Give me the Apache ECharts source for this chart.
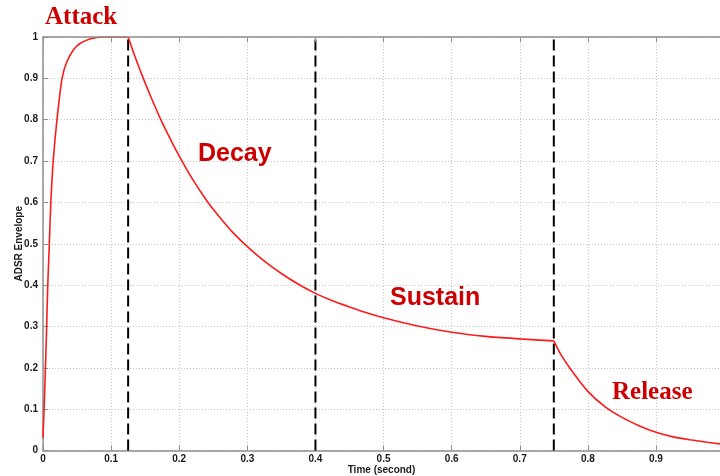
<!DOCTYPE html>
<html><head><meta charset="utf-8">
<script src="https://cdn.jsdelivr.net/npm/echarts@6/dist/echarts.min.js"></script>
<style>html,body{margin:0;padding:0;background:#fff}#c{width:720px;height:476px}</style>
</head><body><div id="c"></div>
<script>
// ---- data ----
const attackT = [0, 0.002, 0.004, 0.0055, 0.007, 0.0093, 0.0115, 0.015, 0.0205, 0.028, 0.035, 0.045, 0.055, 0.07, 0.088, 0.125];
const attackV = [0.03, 0.12, 0.22, 0.31, 0.40, 0.50, 0.60, 0.70, 0.80, 0.90, 0.94, 0.97, 0.985, 0.996, 1.0, 1.0];
const decayT = [0.125, 0.135, 0.148, 0.16, 0.173, 0.187, 0.2, 0.22, 0.241, 0.26, 0.28, 0.3, 0.325, 0.35, 0.375, 0.4, 0.425, 0.45, 0.475, 0.5, 0.55, 0.6, 0.65, 0.7, 0.75];
const decayV = [1.0, 0.953, 0.897, 0.849, 0.80, 0.753, 0.712, 0.655, 0.603, 0.563, 0.525, 0.493, 0.458, 0.428, 0.402, 0.38, 0.362, 0.347, 0.333, 0.321, 0.301, 0.286, 0.276, 0.27, 0.265];
const releaseT = [0.75, 0.76, 0.775, 0.8, 0.825, 0.85, 0.875, 0.9, 0.925, 0.95, 0.975, 0.994];
const releaseV = [0.265, 0.233, 0.196, 0.143, 0.106, 0.08, 0.06, 0.044, 0.033, 0.026, 0.02, 0.016];
const phaseBounds = [0.125, 0.4, 0.75];
const phaseNames = ['Attack', 'Decay', 'Sustain', 'Release'];
const xRange = [0, 0.994], xStep = 0.1;
const yRange = [0, 1], yStep = 0.1;
const xTitle = 'Time (second)';
const yTitle = 'ADSR Envelope';

const pairs = (t, v) => t.map((x, i) => [x, v[i]]);
const chart = echarts.init(document.getElementById('c'), null, {renderer: 'canvas'});
const axisGray = '#8f8f8f';
const labelFont = {color: '#1a1a1a', fontSize: 10, fontWeight: 'bold', fontFamily: 'Liberation Sans, Arial, sans-serif'};
const curveStyle = {color: '#ff1a1a', width: 1.6};
const curveSeries = (d) => ({
  type: 'line', data: d, xAxisIndex: 0, yAxisIndex: 0, showSymbol: false, symbol: 'none',
  smooth: 0.25, lineStyle: curveStyle, itemStyle: {color: curveStyle.color}, z: 3, silent: true
});
const boundSeries = (b) => ({
  type: 'line', data: [[b, yRange[0]], [b, yRange[1]]], xAxisIndex: 0, yAxisIndex: 0,
  showSymbol: false, symbol: 'none', silent: true, z: 2,
  lineStyle: {color: '#000', width: 2, type: [11, 5]}, itemStyle: {color: '#000'}
});
const red = '#cc0000';
const annot = (txt, x, y, serif) => ({
  type: 'text', left: x, top: y - 10, z: 100,
  style: {text: txt, fill: red, font: 'bold 25px ' + (serif ? '"Liberation Serif", "Times New Roman", serif' : '"Liberation Sans", Arial, sans-serif')}
});
chart.setOption({
  animation: false,
  backgroundColor: '#fff',
  grid: {left: 43, right: 0, top: 37, bottom: 25.5, containLabel: false, outerBoundsMode: 'none'},
  xAxis: [{
    type: 'value', min: xRange[0], max: xRange[1], interval: xStep, position: 'bottom',
    name: xTitle, nameLocation: 'middle', nameGap: 15, nameMoveOverlap: false,
    nameTextStyle: {color: '#1a1a1a', fontSize: 10, fontWeight: 'bold', fontFamily: 'Liberation Sans, Arial, sans-serif'},
    axisLine: {show: true, onZero: false, lineStyle: {color: axisGray, width: 1.5}},
    axisTick: {show: true, inside: true, length: 5, lineStyle: {color: axisGray, width: 1}},
    axisLabel: Object.assign({margin: 4, showMaxLabel: false, formatter: v => String(+v.toFixed(2))}, labelFont),
    splitLine: {show: true, lineStyle: {color: '#c4c4c4', width: 1, type: [1, 2]}}
  }, {
    type: 'value', min: xRange[0], max: xRange[1], interval: xStep, position: 'top', z: 5,
    axisLine: {show: true, onZero: false, lineStyle: {color: axisGray, width: 1.5}},
    axisTick: {show: true, inside: true, length: 5, lineStyle: {color: axisGray, width: 1}},
    axisLabel: {show: false}, splitLine: {show: false}
  }],
  yAxis: [{
    type: 'value', min: yRange[0], max: yRange[1], interval: yStep,
    name: yTitle, nameLocation: 'middle', nameGap: 19, nameRotate: 90, nameMoveOverlap: false,
    nameTextStyle: {color: '#1a1a1a', fontSize: 10, fontWeight: 'bold', fontFamily: 'Liberation Sans, Arial, sans-serif'},
    axisLine: {show: true, onZero: false, lineStyle: {color: axisGray, width: 1.5}},
    axisTick: {show: true, inside: true, length: 5, lineStyle: {color: axisGray, width: 1}},
    axisLabel: Object.assign({margin: 5, formatter: v => String(+v.toFixed(2))}, labelFont),
    splitLine: {show: true, lineStyle: {color: '#c4c4c4', width: 1, type: [1, 2]}}
  }],
  series: [
    ...phaseBounds.map(boundSeries),
    curveSeries(pairs(attackT, attackV)),
    curveSeries(pairs(decayT, decayV)),
    curveSeries(pairs(releaseT, releaseV))
  ],
  graphic: [
    annot(phaseNames[0], 45, 15, true),
    annot(phaseNames[1], 198, 152, false),
    annot(phaseNames[2], 390, 296, false),
    annot(phaseNames[3], 612, 390, true)
  ]
});
</script></body></html>
